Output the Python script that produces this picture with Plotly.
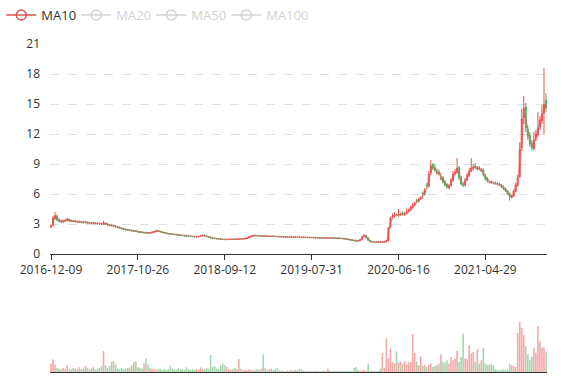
import plotly.graph_objects as go
import pandas as pd

# ---- data (one point per ~5 trading days) ----
close = [
    2.80, 3.60, 3.85, 3.40, 3.30, 3.22, 3.30, 3.35, 3.50, 3.32,
    3.28, 3.30, 3.25, 3.20, 3.22, 3.18, 3.15, 3.18, 3.12, 3.10,
    3.08, 3.10, 3.05, 3.02, 3.00, 2.98, 3.10, 3.02, 2.90, 2.85,
    2.85, 2.80, 2.72, 2.66, 2.58, 2.52, 2.48, 2.42, 2.40, 2.36,
    2.32, 2.30, 2.25, 2.20, 2.18, 2.15, 2.14, 2.12, 2.10, 2.12,
    2.18, 2.25, 2.32, 2.28, 2.22, 2.15, 2.10, 2.06, 2.02, 2.00,
    1.98, 1.95, 1.92, 1.90, 1.86, 1.84, 1.80, 1.78, 1.76, 1.75,
    1.74, 1.72, 1.72, 1.74, 1.80, 1.88, 1.82, 1.74, 1.68, 1.62,
    1.58, 1.55, 1.52, 1.50, 1.46, 1.45, 1.44, 1.45, 1.46, 1.48,
    1.47, 1.46, 1.48, 1.50, 1.50, 1.52, 1.55, 1.62, 1.72, 1.80,
    1.86, 1.84, 1.82, 1.80, 1.80, 1.78, 1.80, 1.78, 1.76, 1.78,
    1.76, 1.75, 1.74, 1.72, 1.74, 1.72, 1.70, 1.72, 1.70, 1.68,
    1.70, 1.72, 1.70, 1.68, 1.66, 1.68, 1.66, 1.64, 1.66, 1.64,
    1.62, 1.64, 1.62, 1.60, 1.62, 1.60, 1.58, 1.60, 1.62, 1.60,
    1.58, 1.60, 1.58, 1.56, 1.55, 1.52, 1.48, 1.44, 1.40, 1.36,
    1.32, 1.30, 1.32, 1.45, 1.75, 1.88, 1.60, 1.35, 1.22, 1.20,
    1.20, 1.18, 1.20, 1.18, 1.20, 1.22, 1.30, 2.60, 3.60, 3.80,
    3.90, 3.85, 3.95, 4.00, 3.95, 4.05, 4.20, 4.40, 4.60, 4.90,
    5.10, 5.30, 5.50, 5.60, 6.00, 6.40, 6.80, 8.00, 8.80, 8.60,
    8.40, 8.20, 8.00, 7.60, 7.20, 6.90, 6.70, 6.80, 7.40, 8.00,
    8.20, 8.60, 7.60, 7.00, 6.90, 7.40, 7.90, 8.30, 8.60, 8.70,
    8.70, 8.60, 8.50, 8.40, 7.90, 7.50, 7.30, 7.20, 7.15, 7.10,
    7.05, 7.00, 6.90, 6.70, 6.50, 6.30, 6.00, 5.70, 5.80, 6.30,
    6.90, 7.60, 10.50, 13.50, 14.60, 12.60, 11.80, 11.00, 10.60, 11.40,
    12.00, 12.60, 13.40, 14.00, 15.00, 14.60,
]
open_ = [
    2.70, 2.85, 3.55, 3.80, 3.42, 3.30, 3.20, 3.32, 3.36, 3.48,
    3.34, 3.26, 3.30, 3.26, 3.18, 3.22, 3.18, 3.14, 3.18, 3.13,
    3.10, 3.06, 3.10, 3.06, 3.03, 3.00, 2.96, 3.10, 3.00, 2.90,
    2.84, 2.86, 2.78, 2.70, 2.66, 2.56, 2.52, 2.46, 2.40, 2.41,
    2.36, 2.30, 2.31, 2.25, 2.20, 2.19, 2.14, 2.15, 2.13, 2.09,
    2.12, 2.17, 2.24, 2.33, 2.28, 2.22, 2.14, 2.11, 2.05, 2.03,
    2.00, 1.97, 1.96, 1.91, 1.90, 1.85, 1.84, 1.80, 1.79, 1.76,
    1.76, 1.73, 1.71, 1.71, 1.74, 1.80, 1.89, 1.81, 1.75, 1.68,
    1.62, 1.57, 1.56, 1.51, 1.50, 1.46, 1.46, 1.43, 1.45, 1.46,
    1.49, 1.48, 1.46, 1.48, 1.51, 1.50, 1.52, 1.55, 1.62, 1.72,
    1.80, 1.87, 1.84, 1.83, 1.79, 1.81, 1.77, 1.81, 1.78, 1.75,
    1.79, 1.76, 1.76, 1.74, 1.71, 1.75, 1.73, 1.69, 1.73, 1.71,
    1.67, 1.70, 1.73, 1.70, 1.69, 1.65, 1.69, 1.66, 1.63, 1.67,
    1.65, 1.61, 1.65, 1.63, 1.59, 1.63, 1.61, 1.57, 1.59, 1.63,
    1.61, 1.57, 1.61, 1.59, 1.56, 1.56, 1.53, 1.49, 1.45, 1.41,
    1.36, 1.33, 1.29, 1.31, 1.46, 1.77, 1.86, 1.62, 1.36, 1.23,
    1.21, 1.21, 1.17, 1.21, 1.17, 1.19, 1.21, 1.30, 2.65, 3.70,
    3.75, 3.95, 3.82, 3.92, 4.05, 3.92, 4.02, 4.24, 4.38, 4.62,
    4.88, 5.35, 5.28, 5.55, 6.10, 5.95, 6.90, 6.78, 8.10, 8.95,
    8.65, 8.10, 8.22, 7.50, 7.65, 7.25, 6.95, 6.62, 6.85, 7.35,
    8.05, 8.15, 8.65, 7.65, 6.95, 6.85, 7.45, 7.85, 8.35, 8.55,
    8.80, 8.50, 8.62, 8.30, 8.45, 7.85, 7.55, 7.15, 7.25, 7.14,
    7.12, 7.08, 7.02, 6.92, 6.72, 6.52, 6.28, 6.05, 5.65, 5.78,
    6.25, 6.85, 7.70, 10.60, 13.60, 14.70, 12.50, 11.90, 11.10, 10.50,
    11.50, 11.90, 12.70, 13.30, 14.10, 15.40,
]
high = [
    2.95, 3.80, 4.20, 3.95, 3.55, 3.45, 3.42, 3.50, 3.62, 3.58,
    3.45, 3.40, 3.42, 3.33, 3.35, 3.30, 3.28, 3.32, 3.26, 3.22,
    3.20, 3.22, 3.17, 3.15, 3.12, 3.10, 3.30, 3.20, 3.10, 3.00,
    2.98, 2.95, 2.88, 2.80, 2.76, 2.66, 2.62, 2.56, 2.50, 2.50,
    2.45, 2.38, 2.40, 2.34, 2.28, 2.27, 2.22, 2.23, 2.20, 2.20,
    2.23, 2.30, 2.40, 2.38, 2.32, 2.26, 2.18, 2.15, 2.09, 2.07,
    2.04, 2.01, 2.00, 1.95, 1.94, 1.89, 1.88, 1.84, 1.83, 1.80,
    1.80, 1.77, 1.76, 1.78, 1.85, 1.96, 1.94, 1.85, 1.79, 1.72,
    1.66, 1.61, 1.60, 1.55, 1.54, 1.50, 1.49, 1.48, 1.49, 1.51,
    1.52, 1.51, 1.51, 1.53, 1.54, 1.55, 1.58, 1.66, 1.77, 1.86,
    1.91, 1.92, 1.88, 1.87, 1.84, 1.85, 1.84, 1.85, 1.82, 1.82,
    1.83, 1.79, 1.79, 1.77, 1.77, 1.79, 1.76, 1.75, 1.76, 1.74,
    1.73, 1.76, 1.76, 1.73, 1.72, 1.71, 1.72, 1.69, 1.69, 1.70,
    1.68, 1.67, 1.68, 1.66, 1.65, 1.66, 1.64, 1.63, 1.65, 1.66,
    1.64, 1.63, 1.64, 1.62, 1.59, 1.59, 1.56, 1.52, 1.48, 1.44,
    1.39, 1.36, 1.35, 1.50, 1.82, 1.96, 1.90, 1.66, 1.40, 1.26,
    1.24, 1.23, 1.23, 1.23, 1.22, 1.25, 1.34, 2.70, 3.75, 4.05,
    4.20, 4.05, 4.50, 4.15, 4.25, 4.20, 4.55, 4.55, 4.80, 5.10,
    5.25, 5.55, 5.65, 5.80, 6.25, 6.60, 7.10, 8.30, 9.40, 9.10,
    8.95, 8.55, 8.45, 8.15, 7.80, 7.45, 7.10, 7.00, 7.60, 8.30,
    8.50, 9.60, 8.80, 7.80, 7.20, 7.60, 8.10, 8.60, 9.60, 9.00,
    9.10, 8.80, 8.80, 8.60, 8.55, 8.00, 7.70, 7.35, 7.35, 7.25,
    7.25, 7.20, 7.10, 7.00, 6.85, 6.65, 6.40, 6.15, 5.95, 6.45,
    7.10, 7.90, 11.20, 14.50, 15.80, 15.10, 12.90, 12.20, 11.40, 12.20,
    12.40, 14.20, 13.80, 14.90, 18.60, 16.10,
]
low = [
    2.58, 2.75, 3.40, 3.28, 3.18, 3.10, 3.12, 3.20, 3.26, 3.20,
    3.18, 3.16, 3.15, 3.10, 3.10, 3.08, 3.04, 3.06, 3.02, 3.00,
    2.98, 2.98, 2.95, 2.92, 2.90, 2.88, 2.90, 2.90, 2.80, 2.75,
    2.74, 2.70, 2.62, 2.56, 2.50, 2.44, 2.40, 2.34, 2.30, 2.28,
    2.24, 2.22, 2.18, 2.13, 2.11, 2.08, 2.06, 2.05, 2.03, 2.02,
    2.08, 2.13, 2.20, 2.23, 2.18, 2.10, 2.06, 2.02, 1.98, 1.96,
    1.94, 1.91, 1.88, 1.86, 1.82, 1.80, 1.76, 1.74, 1.72, 1.71,
    1.70, 1.68, 1.67, 1.68, 1.71, 1.77, 1.78, 1.70, 1.64, 1.58,
    1.54, 1.52, 1.48, 1.47, 1.43, 1.42, 1.41, 1.40, 1.42, 1.43,
    1.44, 1.43, 1.43, 1.45, 1.47, 1.47, 1.49, 1.52, 1.59, 1.69,
    1.77, 1.81, 1.79, 1.77, 1.76, 1.75, 1.74, 1.75, 1.73, 1.72,
    1.73, 1.72, 1.71, 1.69, 1.68, 1.69, 1.67, 1.66, 1.67, 1.65,
    1.64, 1.67, 1.67, 1.65, 1.63, 1.62, 1.63, 1.61, 1.60, 1.61,
    1.59, 1.58, 1.59, 1.57, 1.56, 1.57, 1.55, 1.54, 1.56, 1.57,
    1.55, 1.54, 1.55, 1.53, 1.52, 1.49, 1.45, 1.41, 1.37, 1.33,
    1.29, 1.27, 1.26, 1.29, 1.43, 1.72, 1.57, 1.32, 1.19, 1.17,
    1.17, 1.16, 1.15, 1.16, 1.15, 1.17, 1.19, 1.28, 2.60, 3.55,
    3.65, 3.75, 3.75, 3.85, 3.85, 3.85, 3.95, 4.15, 4.30, 4.55,
    4.75, 5.05, 5.15, 5.40, 5.50, 5.85, 6.55, 6.65, 7.90, 8.40,
    8.20, 7.95, 7.85, 7.35, 7.05, 6.75, 6.50, 6.45, 6.75, 7.20,
    7.85, 8.00, 7.40, 6.85, 6.70, 6.75, 7.30, 7.70, 8.20, 8.35,
    8.50, 8.35, 8.35, 8.20, 7.75, 7.35, 7.15, 7.05, 7.00, 6.95,
    6.95, 6.90, 6.80, 6.60, 6.40, 6.20, 5.90, 5.35, 5.55, 5.70,
    6.15, 6.75, 7.60, 10.30, 13.00, 12.20, 11.40, 10.70, 10.30, 10.40,
    11.30, 11.70, 12.40, 13.00, 12.00, 14.20,
]
volume = [
    25, 37, 22, 12, 10, 8, 12, 8, 20, 10,
    8, 12, 10, 8, 14, 8, 10, 18, 12, 8,
    10, 14, 8, 10, 12, 18, 62, 20, 12, 18,
    30, 32, 22, 10, 8, 12, 8, 10, 12, 14,
    20, 30, 32, 15, 12, 10, 25, 40, 22, 12,
    10, 8, 6, 8, 10, 6, 8, 6, 8, 20,
    10, 8, 8, 12, 8, 8, 6, 14, 8, 6,
    8, 6, 10, 6, 14, 10, 8, 12, 10, 50,
    15, 18, 10, 8, 20, 25, 20, 15, 8, 6,
    8, 12, 8, 38, 10, 6, 6, 5, 8, 6,
    5, 6, 8, 6, 10, 52, 12, 6, 8, 10,
    6, 8, 12, 5, 4, 4, 3, 5, 4, 6,
    4, 6, 5, 10, 8, 4, 3, 3, 2, 3,
    2, 3, 3, 2, 3, 4, 3, 10, 3, 2,
    2, 3, 2, 2, 4, 2, 2, 3, 3, 2,
    12, 14, 6, 3, 4, 6, 4, 25, 3, 4,
    3, 2, 3, 10, 56, 12, 100, 41, 70, 30,
    25, 61, 28, 30, 25, 32, 22, 28, 30, 113,
    56, 31, 20, 46, 18, 22, 15, 20, 25, 15,
    18, 20, 25, 52, 30, 28, 35, 25, 45, 35,
    40, 63, 30, 45, 115, 40, 38, 80, 55, 60,
    30, 68, 25, 35, 72, 25, 20, 22, 25, 20,
    8, 6, 5, 6, 8, 5, 8, 25, 20, 18,
    15, 117, 149, 132, 110, 77, 52, 35, 45, 72,
    57, 137, 92, 72, 74, 60,
]
tick_labels = ["2016-12-09", "2017-10-26", "2018-09-12",
               "2019-07-31", "2020-06-16", "2021-04-29"]
tick_index = [0, 43, 86, 129, 172, 215]
ma_names = ["MA10", "MA20", "MA50", "MA100"]
ma_windows = [2, 4, 10, 20]  # in 5-day points (10, 20, 50, 100 days)

n = len(close)
assert len(open_) == n and len(high) == n and len(low) == n and len(volume) == n, \
    (len(open_), len(high), len(low), len(volume), n)
idx = list(range(n))
s_close = pd.Series(close)

UP = "#eb5454"
DOWN = "#47b262"
FONT = "Open Sans, Liberation Sans, sans-serif"

fig = go.Figure()

fig.add_trace(go.Candlestick(
    x=idx, open=open_, high=high, low=low, close=close,
    increasing=dict(line=dict(color=UP, width=1), fillcolor=UP),
    decreasing=dict(line=dict(color=DOWN, width=1), fillcolor=DOWN),
    whiskerwidth=0, showlegend=False, xaxis="x", yaxis="y", name="K",
))

# MA lines
for name, w in zip(ma_names, ma_windows):
    ma = s_close.rolling(w).mean()
    if name == "MA10":
        fig.add_trace(go.Scatter(
            x=idx, y=ma, mode="lines", name=name, legendgroup=name,
            showlegend=False, line=dict(color="rgba(235,84,84,0.5)", width=1.6),
            xaxis="x", yaxis="y",
        ))
        fig.add_trace(go.Scatter(
            x=[None], y=[None], mode="lines+markers", name=name, legendgroup=name,
            line=dict(color="#d9534f", width=1.5),
            marker=dict(symbol="circle-open", size=10, color="#d9534f",
                        line=dict(width=1.5, color="#d9534f")),
            xaxis="x", yaxis="y",
        ))
    else:
        fig.add_trace(go.Scatter(
            x=idx, y=ma, mode="lines+markers", visible="legendonly",
            name="<span style='color:#a6a6a6'>" + name + "</span>",
            line=dict(color="#a6a6a6", width=1.5),
            marker=dict(symbol="circle-open", size=10, color="#a6a6a6",
                        line=dict(width=1.5, color="#a6a6a6")),
            xaxis="x", yaxis="y",
        ))

# blank spacer entry so the last legend label is not clipped
fig.add_trace(go.Scatter(
    x=[None], y=[None], mode="lines", name=" ", hoverinfo="skip",
    line=dict(color="rgba(0,0,0,0)", width=0), xaxis="x", yaxis="y",
))

vol_colors = ["rgba(235,84,84,0.5)" if c >= o else "rgba(71,178,98,0.5)"
              for o, c in zip(open_, close)]
fig.add_trace(go.Bar(
    x=idx, y=volume, marker=dict(color=vol_colors, line=dict(width=0)),
    showlegend=False, xaxis="x2", yaxis="y2", name="Volume",
))

W, H = 577, 380
mt, mb = 44, 8
plot_h = H - mt - mb
main_bottom = (372 - 254) / plot_h
vol_top = (372 - 300) / plot_h

fig.update_layout(
    width=W, height=H,
    margin=dict(l=50, r=30, t=mt, b=mb, autoexpand=False),
    paper_bgcolor="white", plot_bgcolor="white",
    font=dict(family=FONT, size=12, color="#333"),
    bargap=0.2,
    showlegend=True,
    legend=dict(orientation="h", x=-0.098, xanchor="left", y=1 + 44 / plot_h,
                yanchor="top", font=dict(size=13, color="#333"),
                itemwidth=30, entrywidth=30, entrywidthmode="pixels",
                bgcolor="rgba(0,0,0,0)"),
    xaxis=dict(
        domain=[0, 1], anchor="y", range=[-0.5, n - 0.5],
        rangeslider=dict(visible=False), automargin=False,
        showgrid=False, zeroline=False,
        showline=True, linecolor="#333", linewidth=1,
        ticks="outside", ticklen=5, tickcolor="#333",
        tickmode="array", tickvals=tick_index, ticktext=tick_labels,
        tickfont=dict(size=12, color="#333"),
    ),
    yaxis=dict(
        domain=[main_bottom, 1], anchor="x", range=[0, 21], automargin=False,
        tickmode="linear", tick0=0, dtick=3,
        showgrid=True, gridcolor="#e0e0e0", griddash="dash", gridwidth=1,
        zeroline=False, showline=False, ticks="",
        ticklabelstandoff=9,
        tickfont=dict(size=12, color="#333"),
    ),
    xaxis2=dict(
        domain=[0, 1], anchor="y2", matches="x", automargin=False,
        showgrid=False, zeroline=False, showticklabels=False,
        showline=True, linecolor="#333", linewidth=1, ticks="",
    ),
    yaxis2=dict(
        domain=[0, vol_top], anchor="x2", range=[0, 149 * 72 / 50],
        visible=False, showgrid=False, automargin=False,
    ),
)

fig.write_html("out.html", config={"displayModeBar": False},
               post_script="document.body.style.margin='0';")
